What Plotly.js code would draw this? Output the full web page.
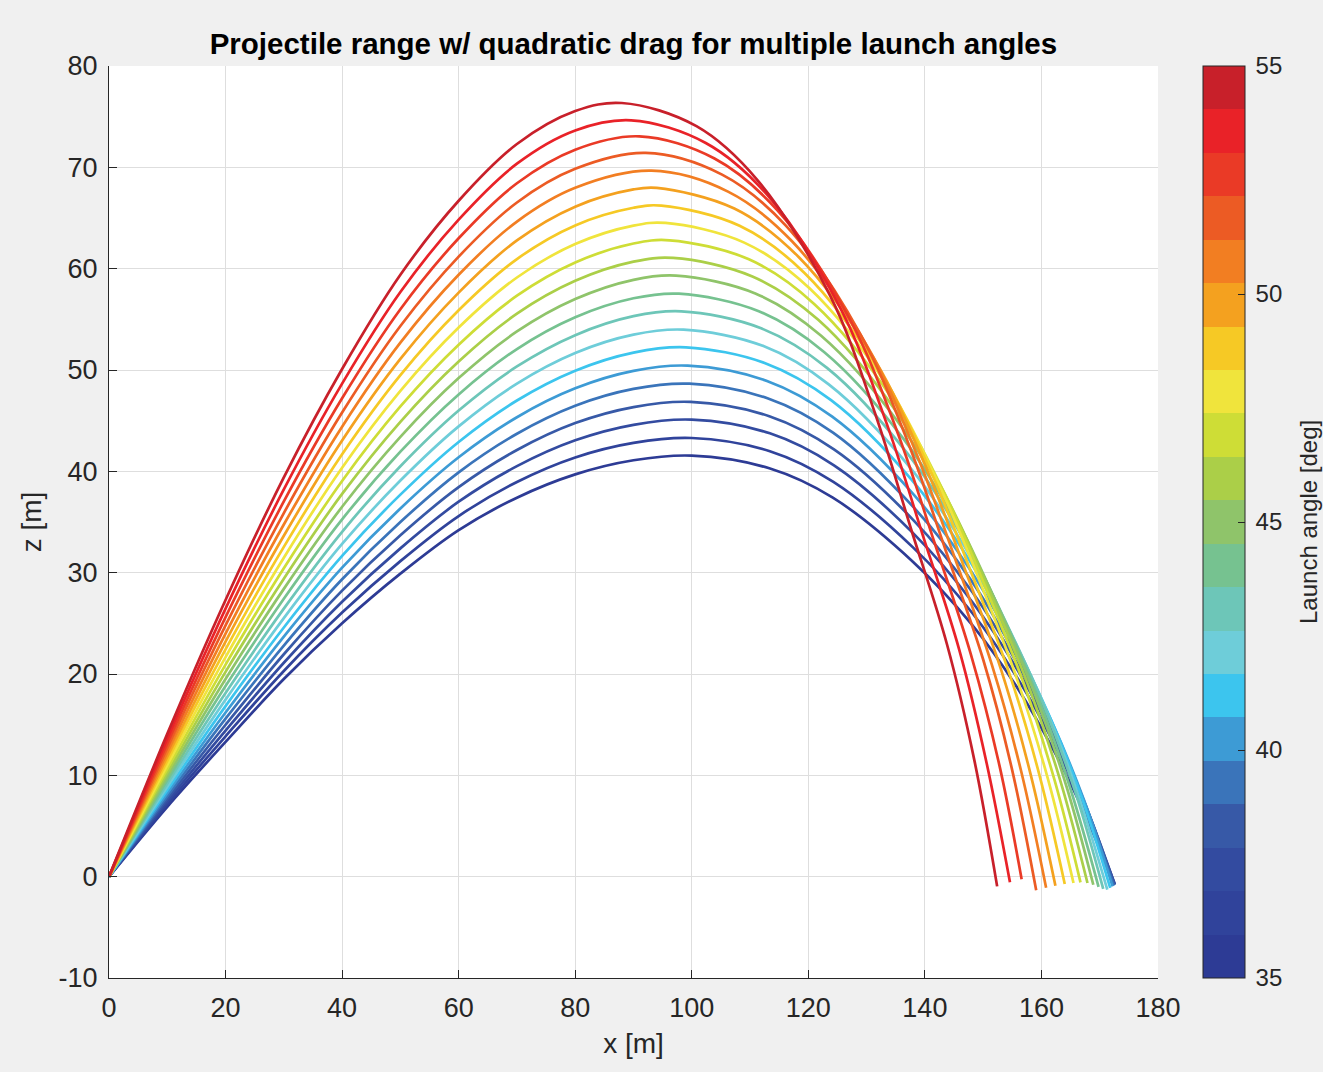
<!DOCTYPE html>
<html>
<head>
<meta charset="utf-8">
<script src="https://cdn.plot.ly/plotly-3.0.1.min.js"></script>
<style>
  html, body { margin: 0; padding: 0; background: #f0f0f0; }
  #chart { width: 1323px; height: 1072px; }
</style>
</head>
<body>
<div id="chart"></div>
<script>
// Launch angles (deg), one trajectory per angle
const angles = [35, 36, 37, 38, 39, 40, 41, 42, 43, 44, 45, 46, 47, 48, 49, 50, 51, 52, 53, 54, 55];

// Line / colorbar colours, one per angle (35 -> 55)
const angleColors = [
  '#2d3b95', '#30439b', '#334ba0', '#3759a7', '#3a74ba', '#3d9bd5', '#3cc5ee',
  '#6ecdd9', '#6dc6b8', '#76c290', '#8fc46a', '#abcf48', '#cedd36', '#f0e43c',
  '#f6c925', '#f4a11f', '#f27e22', '#ec5b24', '#ea3a26', '#e92228', '#c8202a'
];

// Horizontal distance x [m] of the points read along each trajectory (rows follow `angles`)
const xPoints = [
  [0,10,20,30,40,50,60,70,80,90,100.0,113.3,124.2,137.8,148.0,155.8,162.1,167.4,172.4],
  [0,10,20,30,40,50,60,70,80,90,100.0,113.4,124.3,138.0,148.2,156.0,162.3,167.6,172.6],
  [0,10,20,30,40,50,60,70,80,90,100.0,113.4,124.4,138.1,148.2,156.0,162.3,167.7,172.6],
  [0,10,20,30,40,50,60,70,80,90,99.8,113.3,124.4,138.1,148.1,155.8,162.2,167.6,172.5],
  [0,10,20,30,40,50,60,70,80,90,99.6,113.1,124.3,138.0,148.0,155.6,162.1,167.4,172.4],
  [0,10,20,30,40,50,60,70,80,90,99.3,112.9,124.1,137.9,147.8,155.4,161.9,167.3,172.2],
  [0,10,20,30,40,50,60,70,80,90,99.0,112.6,123.9,137.7,147.5,155.0,161.5,166.9,171.8],
  [0,10,20,30,40,50,60,70,80,90,98.6,112.3,123.5,137.3,147.0,154.5,161.0,166.3,171.3],
  [0,10,20,30,40,50,60,70,80,90,98.2,111.9,123.2,136.9,146.5,153.9,160.5,165.8,170.6],
  [0,10,20,30,40,50,60,70,80,90,97.8,111.5,122.7,136.4,145.8,153.2,159.7,165.0,169.8],
  [0,10,20,30,40,50,60,70,80,90,97.3,111.0,122.2,135.9,145.2,152.5,159.0,164.3,168.9],
  [0,10,20,30,40,50,60,70,80,90,96.8,110.4,121.7,135.2,144.4,151.6,158.1,163.4,167.9],
  [0,10,20,30,40,50,60,70,80,90,96.2,109.8,121.0,134.5,143.5,150.6,157.1,162.3,166.7],
  [0,10,20,30,40,50,60,70,80,90,95.5,109.0,120.2,133.6,142.4,149.5,155.9,161.1,165.5],
  [0,10,20,30,40,50,60,70,80,90,94.8,108.2,119.3,132.5,141.2,148.1,154.6,159.7,164.0],
  [0,10,20,30,40,50,60,70,80,90,94.0,107.3,118.3,131.4,139.9,146.7,153.1,158.1,162.4],
  [0,10,20,30,40,50,60,70,80,93.1,106.3,117.2,130.2,138.5,145.2,151.5,156.5,160.8],
  [0,10,20,30,40,50,60,70,80,92.1,105.2,116.1,128.9,137.1,143.6,150.0,154.9,159.1],
  [0,10,20,30,40,50,60,70,80,91.0,103.9,114.7,127.3,135.3,141.7,147.9,152.8,156.6],
  [0,10,20,30,40,50,60,70,80,89.6,102.4,113.1,125.6,133.4,139.7,145.9,150.6,154.6],
  [0,10,20,30,40,50,60,70,80,88.0,100.8,111.3,123.8,131.4,137.6,143.8,148.5,152.4]
];

// Height z [m] of the same points (rows follow `angles`)
const zPoints = [
  [0,6.90,13.30,19.50,25.00,29.90,34.20,37.40,39.70,41.09,41.55,40.30,37.40,31.16,24.93,18.70,12.47,6.23,-0.72],
  [0,7.14,13.85,20.30,26.06,31.14,35.59,38.95,41.37,42.81,43.29,41.99,38.96,32.47,25.97,19.48,12.99,6.49,-0.75],
  [0,7.40,14.41,21.11,27.13,32.40,37.00,40.51,43.06,44.59,45.10,43.75,40.59,33.83,27.06,20.30,13.53,6.77,-0.80],
  [0,7.67,14.99,21.95,28.23,33.69,38.44,42.10,44.76,46.34,46.85,45.44,42.17,35.14,28.11,21.08,14.06,7.03,-0.80],
  [0,7.95,15.59,22.81,29.35,35.00,39.90,43.71,46.47,48.13,48.65,47.19,43.79,36.49,29.19,21.89,14.60,7.30,-0.90],
  [0,8.24,16.20,23.69,30.49,36.34,41.39,45.34,48.19,49.91,50.43,48.92,45.39,37.82,30.26,22.69,15.13,7.56,-0.95],
  [0,8.55,16.83,24.59,31.65,37.70,42.90,46.99,49.93,51.72,52.24,50.67,47.02,39.18,31.34,23.51,15.67,7.84,-1.10],
  [0,8.87,17.47,25.51,32.83,39.09,44.44,48.66,51.68,53.49,53.98,52.36,48.58,40.49,32.39,24.29,16.19,8.10,-1.28],
  [0,9.20,18.13,26.45,34.03,40.50,46.00,50.35,53.44,55.31,55.79,54.12,50.21,41.84,33.47,25.11,16.74,8.37,-1.20],
  [0,9.54,18.81,27.42,35.26,41.94,47.59,52.07,55.21,57.08,57.53,55.80,51.78,43.15,34.52,25.89,17.26,8.63,-1.00],
  [0,9.89,19.50,28.40,36.50,43.40,49.20,53.80,57.00,58.90,59.31,57.53,53.38,44.48,35.59,26.69,17.79,8.90,-0.80],
  [0,10.26,20.21,29.41,37.77,44.89,50.84,55.56,58.80,60.69,61.06,59.23,54.95,45.80,36.64,27.48,18.32,9.16,-0.63],
  [0,10.63,20.93,30.43,39.05,46.40,52.50,57.33,60.61,62.48,62.80,60.92,56.52,47.10,37.68,28.26,18.84,9.42,-0.56],
  [0,11.02,21.67,31.48,40.36,47.94,54.19,59.13,62.43,64.25,64.51,62.57,58.06,48.38,38.71,29.03,19.35,9.68,-0.63],
  [0,11.43,22.43,32.55,41.69,49.50,55.90,60.95,64.27,66.01,66.22,64.23,59.60,49.67,39.73,29.80,19.87,9.93,-0.72],
  [0,11.84,23.20,33.64,43.04,51.09,57.64,62.79,66.12,67.82,67.97,65.93,61.17,50.98,40.78,30.59,20.39,10.20,-0.90],
  [0,12.27,23.99,34.75,44.41,52.70,59.40,64.65,67.98,69.67,67.58,62.70,52.25,41.80,31.35,20.90,10.45,-1.10],
  [0,12.70,24.79,35.88,45.80,54.34,61.19,66.53,69.85,71.42,69.28,64.28,53.57,42.85,32.14,21.43,10.71,-1.35],
  [0,13.15,25.61,37.03,47.21,56.00,63.00,68.43,71.74,73.06,70.87,65.75,54.80,43.84,32.88,21.92,10.96,-0.25],
  [0,13.62,26.45,38.21,48.65,57.69,64.84,70.36,73.64,74.64,72.40,67.18,55.98,44.78,33.59,22.39,11.20,-0.55],
  [0,14.09,27.30,39.40,50.10,59.40,66.70,72.30,75.55,76.35,74.06,68.72,57.26,45.81,34.36,22.91,11.45,-0.96]
];

const xTicks = [0, 20, 40, 60, 80, 100, 120, 140, 160, 180];
const zTicks = [-10, 0, 10, 20, 30, 40, 50, 60, 70, 80];
const zTickText = ['-10', '0', '10', '20', '30', '40', '50', '60', '70', '80'];
const cbTicks = [35, 40, 45, 50, 55];

const FONT = '"Liberation Sans", Arial, Helvetica, sans-serif';
const INK = '#262626';

const traces = angles.map((a, i) => ({
  type: 'scatter',
  mode: 'lines',
  x: xPoints[i],
  y: zPoints[i],
  name: a + '°',
  line: { color: angleColors[i], width: 2.7, shape: 'spline', smoothing: 1 },
  hoverinfo: 'skip',
  showlegend: false
}));

// stepped colour scale for the colour bar
const n = angleColors.length;
const cscale = [];
angleColors.forEach((c, i) => {
  cscale.push([i / n, c]);
  cscale.push([(i + 1) / n, c]);
});

traces.push({
  type: 'scatter',
  mode: 'markers',
  x: [null],
  y: [null],
  hoverinfo: 'skip',
  showlegend: false,
  marker: {
    color: [angles[0]],
    cmin: angles[0],
    cmax: angles[angles.length - 1],
    colorscale: cscale,
    showscale: true,
    colorbar: {
      x: 1.0429,
      xanchor: 'left',
      y: 0.5,
      yanchor: 'middle',
      len: 1,
      lenmode: 'fraction',
      thickness: 42,
      thicknessmode: 'pixels',
      xpad: 0,
      ypad: 0,
      outlinewidth: 1,
      outlinecolor: INK,
      tickvals: cbTicks,
      ticktext: cbTicks.map(v => '\u2009' + v),
      ticks: 'inside',
      ticklen: 7,
      tickwidth: 1,
      tickcolor: INK,
      tickfont: { family: FONT, size: 24, color: INK }
    }
  }
});

const layout = {
  width: 1323,
  height: 1072,
  paper_bgcolor: '#f0f0f0',
  plot_bgcolor: '#ffffff',
  margin: { l: 109, r: 165, t: 66, b: 94, pad: 0 },
  title: {
    text: '<b>Projectile range w/ quadratic drag for multiple launch angles</b>',
    font: { family: FONT, size: 29.5, color: '#000000' },
    x: 0.4788,
    xanchor: 'center',
    y: 0.959,
    yanchor: 'middle'
  },
  xaxis: {
    range: [0, 180],
    tickvals: xTicks,
    ticks: 'inside',
    ticklen: 8,
    tickwidth: 1,
    tickcolor: INK,
    ticklabelstandoff: 6,
    showline: true,
    linecolor: INK,
    linewidth: 1,
    showgrid: true,
    gridcolor: '#dedede',
    gridwidth: 1,
    zeroline: false,
    tickfont: { family: FONT, size: 27, color: INK },
    title: { text: 'x [m]', font: { family: FONT, size: 28, color: INK }, standoff: 10 }
  },
  yaxis: {
    range: [-10, 80],
    tickvals: zTicks,
    ticktext: zTickText,
    ticks: 'inside',
    ticklen: 8,
    tickwidth: 1,
    tickcolor: INK,
    ticklabelstandoff: 5,
    showline: true,
    linecolor: INK,
    linewidth: 1,
    showgrid: true,
    gridcolor: '#dedede',
    gridwidth: 1,
    zeroline: false,
    tickfont: { family: FONT, size: 27, color: INK },
    title: { text: 'z [m]', font: { family: FONT, size: 28, color: INK }, standoff: 8 }
  },
  annotations: [{
    text: 'Launch angle [deg]',
    xref: 'paper', yref: 'paper',
    x: 1.1430, y: 0.5,
    xanchor: 'center', yanchor: 'middle',
    textangle: -90,
    showarrow: false,
    font: { family: FONT, size: 24, color: INK }
  }]
};

Plotly.newPlot('chart', traces, layout, { staticPlot: true, displayModeBar: false });
</script>
</body>
</html>
